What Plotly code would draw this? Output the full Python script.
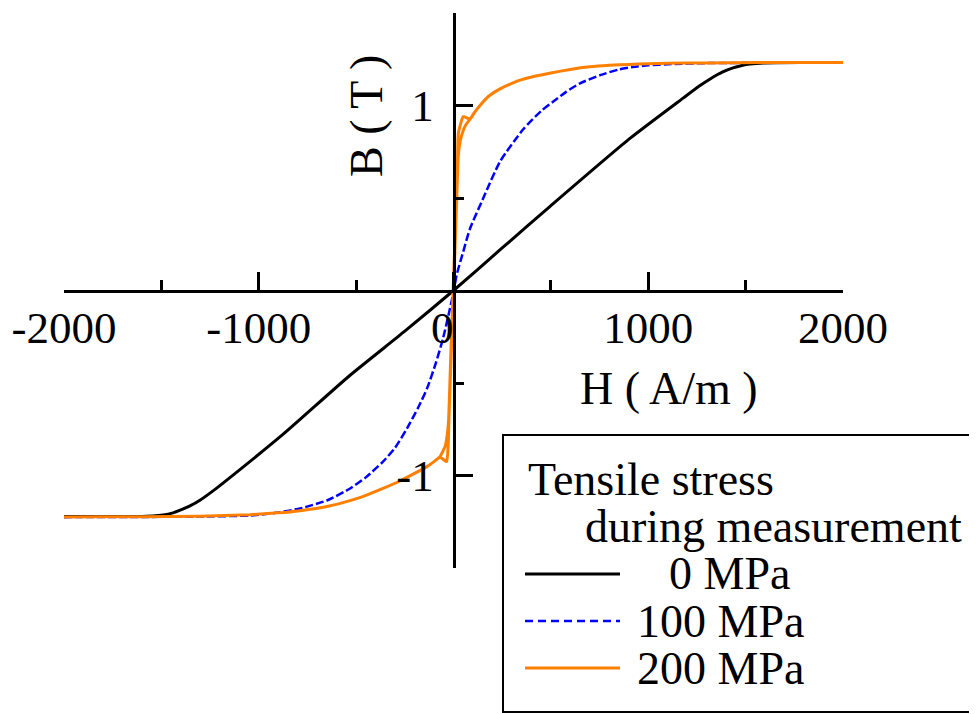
import plotly.graph_objects as go

# ---------------- data ----------------
series_names = ["0 MPa", "100 MPa", "200 MPa"]
series_colors = ["#000000", "#0000FF", "#FF8000"]

# 0 MPa
black_H = [-2000, -1800, -1600, -1530, -1480, -1440, -1400, -1353, -1300, -1216, -1132,
           -876, -531, -250, 0, 250, 496, 906, 1179, 1266, 1320, 1380, 1435, 1480, 1522, 1600, 1800, 2000]
black_B = [-1.222, -1.222, -1.221, -1.218, -1.212, -1.202, -1.186, -1.164, -1.132, -1.068, -0.998,
           -0.778, -0.458, -0.220, 0.0, 0.230, 0.455, 0.822, 1.040, 1.108, 1.145, 1.180, 1.203, 1.216, 1.224, 1.230, 1.232, 1.232]

# 100 MPa
blue_H = [-2000, -1600, -1300, -1045, -900, -788, -650, -531, -450, -362, -300, -239, -180, -136,
          -90, -54, -25, 0, 16, 50, 85, 152, 239, 357, 450, 511, 580, 650, 753, 850, 922, 1000, 1100,
          1300, 1600, 2000]
blue_B = [-1.225, -1.224, -1.222, -1.216, -1.200, -1.178, -1.135, -1.070, -1.010, -0.925, -0.850,
          -0.746, -0.630, -0.530, -0.390, -0.260, -0.130, -0.010, 0.083, 0.210, 0.335, 0.497, 0.697,
          0.870, 0.970, 1.020, 1.075, 1.120, 1.164, 1.195, 1.208, 1.217, 1.223, 1.229, 1.231, 1.232]

# 200 MPa (loop pieces)
orange_top_H = [2000, 1600, 1300, 1100, 1000, 900, 800, 700, 600, 500, 411, 350, 300, 239, 180, 136, 110, 85]
orange_top_B = [1.232, 1.232, 1.230, 1.228, 1.226, 1.222, 1.217, 1.209, 1.195, 1.176, 1.157, 1.140,
                1.120, 1.090, 1.050, 1.000, 0.965, 0.926]
orange_desc_mid_H = [60, 42, 30, 23, 12, 0, -12, -22, -28, -35]
orange_desc_mid_B = [0.890, 0.840, 0.780, 0.700, 0.350, 0.0, -0.350, -0.650, -0.850, -0.925]
orange_bot_H = [-70, -85, -100, -120, -150, -188, -270, -362, -450, -531, -650, -788, -900, -1045,
                -1300, -1600, -2000]
orange_bot_B = [-0.900, -0.912, -0.925, -0.940, -0.960, -0.982, -1.027, -1.070, -1.107, -1.136,
                -1.168, -1.190, -1.202, -1.212, -1.220, -1.223, -1.224]
orange_asc_mid_H = [-60, -42, -32, -25, -14, -2, 10, 20, 25, 50]
orange_asc_mid_B = [-0.880, -0.840, -0.780, -0.700, -0.350, 0.0, 0.350, 0.680, 0.850, 0.940]

orange_H = (orange_top_H + orange_desc_mid_H + orange_bot_H
            + orange_bot_H[::-1] + orange_asc_mid_H + orange_top_H[::-1])
orange_B = (orange_top_B + orange_desc_mid_B + orange_bot_B
            + orange_bot_B[::-1] + orange_asc_mid_B + orange_top_B[::-1])

x_tick_vals = [-2000, -1000, 0, 1000, 2000]
x_tick_text = ["-2000", "-1000", "0\u00a0\u00a0", "1000", "2000"]
x_minor_vals = [-1500, -500, 500, 1500]
y_tick_vals = [-1, 1]
y_tick_text = ["-1", "1"]
y_minor_vals = [-1.5, -0.5, 0.5, 1.5]

x_title = "H ( A/m )"
y_title = "B ( T )"
legend_title_lines = ["Tensile stress", "during measurement"]

# ---------------- layout helpers ----------------
OFF = 8                      # page body margin
W, HGT = 977 - OFF, 714 - OFF
ML, MT = 64 - OFF, 13 - OFF
PW, PH = 779, 555
MR = W - ML - PW
MB = HGT - MT - PH
FONT = "Liberation Serif, Times New Roman, serif"


def px(x):
    return (x - OFF - ML) / PW


def py(y):
    return (MT + PH - (y - OFF)) / PH


fig = go.Figure()
fig.add_trace(go.Scatter(x=black_H, y=black_B, mode="lines", name=series_names[0],
                         line=dict(color=series_colors[0], width=3, shape="spline", smoothing=0.6)))
fig.add_trace(go.Scatter(x=blue_H, y=blue_B, mode="lines", name=series_names[1],
                         line=dict(color=series_colors[1], width=2.5, dash="8px,3px",
                                   shape="spline", smoothing=0.6)))
fig.add_trace(go.Scatter(x=orange_H, y=orange_B, mode="lines", name=series_names[2],
                         line=dict(color=series_colors[2], width=3, shape="spline", smoothing=0.4)))

axis_common = dict(showgrid=False, zeroline=False, showline=True, linecolor="black", linewidth=2.5,
                   ticks="inside", tickcolor="black", tickwidth=2.5, ticklen=18, automargin=False,
                   tickfont=dict(family=FONT, size=45, color="black"),
                   anchor="free", position=0.5)

fig.update_layout(
    width=W, height=HGT,
    margin=dict(l=ML, r=MR, t=MT, b=MB),
    paper_bgcolor="white", plot_bgcolor="white",
    showlegend=False,
    font=dict(family=FONT, size=45, color="black"),
    xaxis=dict(range=[-2000, 2000], tickmode="array", tickvals=x_tick_vals, ticktext=x_tick_text,
               minor=dict(tickmode="array", tickvals=x_minor_vals, ticks="inside", ticklen=10,
                          tickwidth=2.5, tickcolor="black"),
               ticklabelstandoff=-3, **axis_common),
    yaxis=dict(range=[-1.5, 1.5], tickmode="array", tickvals=y_tick_vals, ticktext=y_tick_text,
               minor=dict(tickmode="array", tickvals=y_minor_vals, ticks="inside", ticklen=9,
                          tickwidth=2.5, tickcolor="black"),
               ticklabelstandoff=10, **axis_common),
)

annotations = [
    dict(text=x_title, x=px(669), y=py(388), xref="paper", yref="paper",
         xanchor="center", yanchor="middle", showarrow=False, font=dict(size=46)),
    dict(text=y_title, x=px(366), y=py(116), xref="paper", yref="paper", textangle=-90,
         xanchor="center", yanchor="middle", showarrow=False, font=dict(size=46)),
    dict(text=legend_title_lines[0], x=px(526), y=py(479), xref="paper", yref="paper",
         xanchor="left", yanchor="middle", showarrow=False, font=dict(size=46)),
    dict(text=legend_title_lines[1], x=px(583), y=py(526), xref="paper", yref="paper",
         xanchor="left", yanchor="middle", showarrow=False, font=dict(size=46)),
]

shapes = [dict(type="rect", xref="paper", yref="paper", x0=px(503), x1=px(975), y0=py(435), y1=py(712),
               line=dict(color="black", width=2), fillcolor="rgba(0,0,0,0)", layer="above")]

entry_y = [574, 621, 668]
label_left = [667, 635, 635]
dashes = ["solid", "8px,5px", "solid"]
widths = [3, 2.5, 3]
for i, name in enumerate(series_names):
    shapes.append(dict(type="line", xref="paper", yref="paper", x0=px(525), x1=px(620),
                       y0=py(entry_y[i]), y1=py(entry_y[i]),
                       line=dict(color=series_colors[i], width=widths[i], dash=dashes[i])))
    annotations.append(dict(text=name, x=px(label_left[i]), y=py(entry_y[i]), xref="paper", yref="paper",
                            xanchor="left", yanchor="middle", showarrow=False, font=dict(size=46)))

fig.update_layout(annotations=annotations, shapes=shapes)
fig.write_html("out.html")
